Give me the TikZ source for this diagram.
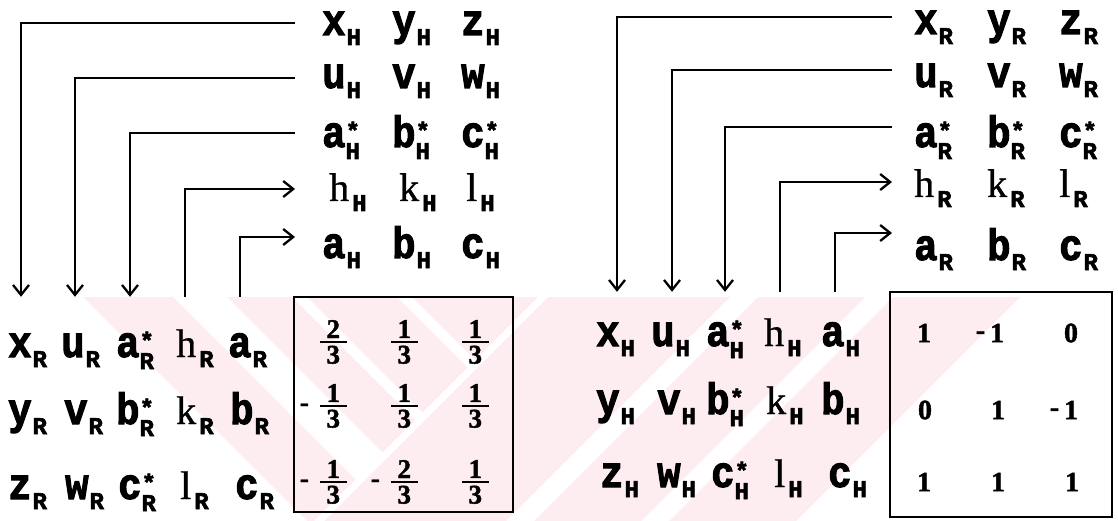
\documentclass[tikz,border=0pt]{standalone}
\usepackage{fontspec}
\usepackage{graphicx}
\setmainfont{Liberation Serif}
\newfontfamily\monof{Liberation Mono}[BoldFeatures={FakeBold=2.5}]
\newfontfamily\serh{Liberation Serif}[FakeBold=0.8]
\newfontfamily\numf{Liberation Serif}[BoldFeatures={FakeBold=1.5}]
\usetikzlibrary{arrows.meta}
\definecolor{wm}{RGB}{253,237,240}
\newcommand\fmain{\monof\bfseries\fontsize{39}{44}\selectfont}
\newcommand\fsubs{\monof\bfseries\fontsize{24}{26}\selectfont}
\newcommand\fserif{\serh\fontsize{40}{44}\selectfont}
\newcommand\lbm[2]{\scalebox{1}[1.13]{\fmain #1}\kern1pt\raisebox{-10pt}{\fsubs #2}}
\newcommand\lbs[2]{\scalebox{1}[1.13]{\fmain #1}\makebox[0pt][l]{\raisebox{8pt}{\fsubs *}}\raisebox{-12pt}{\fsubs #2}}
\newcommand\lbh[2]{{\fserif #1}\kern3pt\raisebox{-10pt}{\fsubs #2}}
\newcommand\fr[1]{$\vcenter{\hbox to 27pt{\hss#1\hss}\kern3pt\hrule height1.7pt\kern3pt\hbox to 27pt{\hss3\hss}}$}
\newcommand\mfr[1]{\raisebox{1pt}{-}\kern11pt\fr{#1}}
\newcommand\mone{\raisebox{3pt}{-}\kern5pt 1}
\begin{document}
\begin{tikzpicture}[x=1pt,y=-1pt,
  lab/.style={inner sep=0pt,anchor=west,text height=31pt,text depth=11pt},
  box/.style={draw,line width=2pt,inner sep=0pt},
  fracent/.style={inner sep=0pt,anchor=east,font=\numf\bfseries\fontsize{27}{30}\selectfont},
  nument/.style={inner sep=0pt,font=\numf\bfseries\fontsize{28}{32}\selectfont},
  tipd/.style={line width=1.9pt,-{Straight Barb[length=10pt,width=16pt,line width=2.3pt]}}]
\useasboundingbox (0,0) rectangle (1118,521);
% watermark
\begin{scope}
\clip (0,297) -- (538,297) -- (314,521) -- (0,521) -- cycle;
\foreach \a/\b in {-214/-124,-70/-5,10/100,115/250}
  \fill[wm] ({\a+297},297) -- ({\b+297},297) -- ({\b+521},521) -- ({\a+521},521) -- cycle;
\end{scope}
\begin{scope}
\clip (548,297) -- (1118,297) -- (1118,521) -- (324,521) -- cycle;
\foreach \a/\b in {845/1027,1055/1162,1190/1317}
  \fill[wm] ({\a-297},297) -- ({\b-297},297) -- ({\b-521},521) -- ({\a-521},521) -- cycle;
\end{scope}
% ---------- left panel ----------
\node[lab] (lt-x) at (322,25) {\lbm{x}{H}};
\node[lab] (lt-y) at (392,25) {\lbm{y}{H}};
\node[lab] (lt-z) at (461,25) {\lbm{z}{H}};
\node[lab] (lt-u) at (322,78) {\lbm{u}{H}};
\node[lab] (lt-v) at (392,78) {\lbm{v}{H}};
\node[lab] (lt-w) at (461,78) {\lbm{w}{H}};
\node[lab] (lt-as) at (322,137) {\lbs{a}{H}};
\node[lab] (lt-bs) at (392,137) {\lbs{b}{H}};
\node[lab] (lt-cs) at (461,137) {\lbs{c}{H}};
\node[lab] (lt-h) at (329,191) {\lbh{h}{H}};
\node[lab] (lt-k) at (399,191) {\lbh{k}{H}};
\node[lab] (lt-l) at (466,191) {\lbh{l}{H}};
\node[lab] (lt-a) at (322,248) {\lbm{a}{H}};
\node[lab] (lt-b) at (392,248) {\lbm{b}{H}};
\node[lab] (lt-c) at (461,248) {\lbm{c}{H}};
%
\node[lab] (lb-x) at (8,347) {\lbm{x}{R}};
\node[lab] (lb-u) at (61,347) {\lbm{u}{R}};
\node[lab] (lb-as) at (116,347) {\lbs{a}{R}};
\node[lab] (lb-h) at (176,347) {\lbh{h}{R}};
\node[lab] (lb-a) at (228,347) {\lbm{a}{R}};
\node[lab] (lb-y) at (8,414) {\lbm{y}{R}};
\node[lab] (lb-v) at (64,414) {\lbm{v}{R}};
\node[lab] (lb-bs) at (116,414) {\lbs{b}{R}};
\node[lab] (lb-k) at (176,414) {\lbh{k}{R}};
\node[lab] (lb-b) at (230,414) {\lbm{b}{R}};
\node[lab] (lb-z) at (8,489) {\lbm{z}{R}};
\node[lab] (lb-w) at (65,489) {\lbm{w}{R}};
\node[lab] (lb-cs) at (118,489) {\lbs{c}{R}};
\node[lab] (lb-l) at (180,489) {\lbh{l}{R}};
\node[lab] (lb-c) at (235,489) {\lbm{c}{R}};
%
\draw[tipd] ([shift={(-27,-2)}]lt-x.west) -| ([shift={(13,-29)}]lb-x.north west);
\draw[tipd] ([shift={(-27,0)}]lt-u.west) -| ([shift={(14,-29)}]lb-u.north west);
\draw[tipd] ([shift={(-27,-4)}]lt-as.west) -| ([shift={(14,-29)}]lb-as.north west);
\draw[tipd] ([shift={(9,-29)}]lb-h.north west) |- ([shift={(-34,-2)}]lt-h.west);
\draw[tipd] ([shift={(12,-29)}]lb-a.north west) |- ([shift={(-27,-11)}]lt-a.west);
%
\node[box,minimum width=219pt,minimum height=215pt] (M1) at (403.5,404.5) {};
\node[fracent] (m11) at (347,342) {\fr{2}};
\node[fracent] (m12) at (418,342) {\fr{1}};
\node[fracent] (m13) at (489,342) {\fr{1}};
\node[fracent] (m21) at (347,406) {\mfr{1}};
\node[fracent] (m22) at (418,406) {\fr{1}};
\node[fracent] (m23) at (489,406) {\fr{1}};
\node[fracent] (m31) at (347,482) {\mfr{1}};
\node[fracent] (m32) at (418,482) {\mfr{2}};
\node[fracent] (m33) at (489,482) {\fr{1}};
% ---------- right panel ----------
\node[lab] (rt-x) at (914,24) {\lbm{x}{R}};
\node[lab] (rt-y) at (987,24) {\lbm{y}{R}};
\node[lab] (rt-z) at (1059,24) {\lbm{z}{R}};
\node[lab] (rt-u) at (914,77) {\lbm{u}{R}};
\node[lab] (rt-v) at (987,77) {\lbm{v}{R}};
\node[lab] (rt-w) at (1059,77) {\lbm{w}{R}};
\node[lab] (rt-as) at (914,137) {\lbs{a}{R}};
\node[lab] (rt-bs) at (987,137) {\lbs{b}{R}};
\node[lab] (rt-cs) at (1059,137) {\lbs{c}{R}};
\node[lab] (rt-h) at (914,187) {\lbh{h}{R}};
\node[lab] (rt-k) at (987,187) {\lbh{k}{R}};
\node[lab] (rt-l) at (1059,187) {\lbh{l}{R}};
\node[lab] (rt-a) at (914,250) {\lbm{a}{R}};
\node[lab] (rt-b) at (987,250) {\lbm{b}{R}};
\node[lab] (rt-c) at (1059,250) {\lbm{c}{R}};
%
\node[lab] (rb-x) at (596,336) {\lbm{x}{H}};
\node[lab] (rb-u) at (651,336) {\lbm{u}{H}};
\node[lab] (rb-as) at (706,336) {\lbs{a}{H}};
\node[lab] (rb-h) at (764,336) {\lbh{h}{H}};
\node[lab] (rb-a) at (821,336) {\lbm{a}{H}};
\node[lab] (rb-y) at (596,404) {\lbm{y}{H}};
\node[lab] (rb-v) at (657,404) {\lbm{v}{H}};
\node[lab] (rb-bs) at (706,404) {\lbs{b}{H}};
\node[lab] (rb-k) at (766,404) {\lbh{k}{H}};
\node[lab] (rb-b) at (821,404) {\lbm{b}{H}};
\node[lab] (rb-z) at (600,477) {\lbm{z}{H}};
\node[lab] (rb-w) at (657,477) {\lbm{w}{H}};
\node[lab] (rb-cs) at (711,477) {\lbs{c}{H}};
\node[lab] (rb-l) at (774,477) {\lbh{l}{H}};
\node[lab] (rb-c) at (828,477) {\lbm{c}{H}};
%
\draw[tipd] ([shift={(-22,-7)}]rt-x.west) -| ([shift={(21,-23)}]rb-x.north west);
\draw[tipd] ([shift={(-22,-7)}]rt-u.west) -| ([shift={(21,-23)}]rb-u.north west);
\draw[tipd] ([shift={(-22,-10)}]rt-as.west) -| ([shift={(19,-23)}]rb-as.north west);
\draw[tipd] ([shift={(16,-23)}]rb-h.north west) |- ([shift={(-22,-5)}]rt-h.west);
\draw[tipd] ([shift={(14,-23)}]rb-a.north west) |- ([shift={(-22,-17)}]rt-a.west);
%
\node[box,minimum width=222pt,minimum height=225pt] (M2) at (1001,404.5) {};
\node[nument] (n11) at (924,333) {1};
\node[nument] (n12) at (990,333) {\mone};
\node[nument] (n13) at (1071,333) {0};
\node[nument] (n21) at (925,410) {0};
\node[nument] (n22) at (998,410) {1};
\node[nument] (n23) at (1064,410) {\mone};
\node[nument] (n31) at (924,482) {1};
\node[nument] (n32) at (998,482) {1};
\node[nument] (n33) at (1072,482) {1};
\end{tikzpicture}
\end{document}
